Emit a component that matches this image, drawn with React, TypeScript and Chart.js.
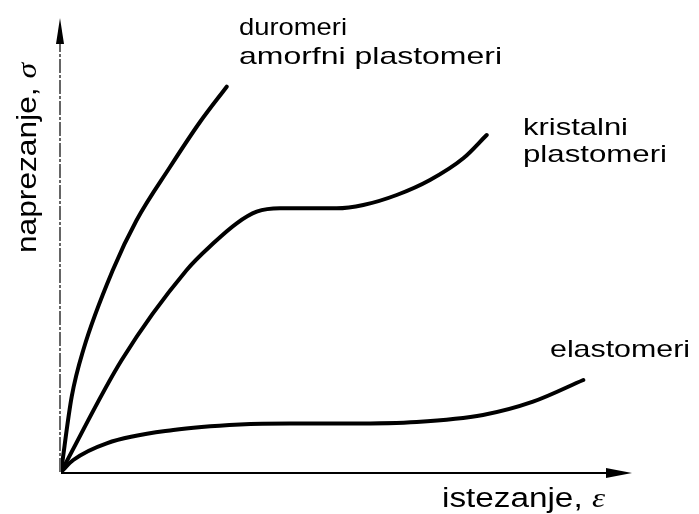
import React, { useEffect, useRef } from "react";
import { Chart, registerables } from "chart.js";

Chart.register(...registerables);

// strain (x) / stress (y) values, in arbitrary units
const duromeriStrain = [0, 10.7, 22.3, 52.3, 75.7, 109, 139, 165.7];
const duromeriStress = [0, 75.3, 122, 203, 252, 305, 350, 385.3];

const kristalniStrain = [0, 60.7, 125.7, 152.3, 175.7, 195.7, 219, 275.7, 302.3, 335.7, 369, 402.3, 425.7];
const kristalniStress = [0, 112, 202, 228.7, 248.7, 260.3, 263.7, 263.7, 267, 277, 292, 313.7, 337];

const elastomeriStrain = [0, 12.3, 45.7, 112.3, 179, 229, 289, 355.7, 422, 472, 522.3];
const elastomeriStress = [0, 12, 28.7, 42, 47.5, 48.5, 48.5, 50, 57, 70.3, 92];

const axisMaxX = 571;
const axisMaxY = 454;

const curveLabels = ["duromeri", "amorfni plastomeri", "kristalni", "plastomeri", "elastomeri"];
const xAxisTitle = "istezanje, ";
const xAxisSymbol = "ε";
const yAxisTitle = "naprezanje, ";
const yAxisSymbol = "σ";

function toPoints(xs: number[], ys: number[]) {
  return xs.map((x, i) => ({ x, y: ys[i] }));
}

type Part = { text: string; font: string };

function drawFitted(ctx: CanvasRenderingContext2D, parts: Part[], x: number, y: number, width: number, rotate = false) {
  ctx.save();
  let natural = 0;
  const widths = parts.map((p) => {
    ctx.font = p.font;
    const w = ctx.measureText(p.text).width;
    natural += w;
    return w;
  });
  ctx.translate(x, y);
  if (rotate) ctx.rotate(-Math.PI / 2);
  ctx.scale(width / natural, 1);
  ctx.fillStyle = "#000";
  ctx.textBaseline = "alphabetic";
  ctx.textAlign = "left";
  let cx = 0;
  parts.forEach((p, i) => {
    ctx.font = p.font;
    ctx.fillText(p.text, cx, 0);
    cx += widths[i];
  });
  ctx.restore();
}

const sans = (s: number) => `${s}px "Liberation Sans", Arial, sans-serif`;
const greek = (s: number) => `italic ${s}px "Liberation Serif", "DejaVu Serif", serif`;

const decorPlugin = {
  id: "decor",
  afterDatasetsDraw(chart: any) {
    const ctx: CanvasRenderingContext2D = chart.ctx;
    const xs = chart.scales.x;
    const ys = chart.scales.y;
    const ox = xs.getPixelForValue(0);
    const oy = ys.getPixelForValue(0);
    const ex = xs.getPixelForValue(axisMaxX);
    const ey = ys.getPixelForValue(axisMaxY);

    ctx.save();
    // y axis (thin, broken like a scan)
    ctx.strokeStyle = "#333";
    ctx.lineWidth = 1.5;
    ctx.setLineDash([14, 2, 3, 2]);
    ctx.beginPath();
    ctx.moveTo(ox - 1, oy);
    ctx.lineTo(ox - 1, ey + 20);
    ctx.stroke();
    ctx.setLineDash([]);
    // y arrow
    ctx.fillStyle = "#000";
    ctx.beginPath();
    ctx.moveTo(ox - 1, ey);
    ctx.lineTo(ox - 5, ey + 26);
    ctx.lineTo(ox + 3, ey + 26);
    ctx.closePath();
    ctx.fill();
    // x axis
    ctx.strokeStyle = "#000";
    ctx.lineWidth = 2;
    ctx.beginPath();
    ctx.moveTo(ox, oy + 1);
    ctx.lineTo(ex - 20, oy + 1);
    ctx.stroke();
    ctx.beginPath();
    ctx.moveTo(ex, oy + 1);
    ctx.lineTo(ex - 26, oy - 4);
    ctx.lineTo(ex - 26, oy + 6);
    ctx.closePath();
    ctx.fill();
    ctx.restore();

    const px = (v: number) => xs.getPixelForValue(v);
    const py = (v: number) => ys.getPixelForValue(v);

    drawFitted(ctx, [{ text: curveLabels[0], font: sans(24) }], px(178), py(437), 108);
    drawFitted(ctx, [{ text: curveLabels[1], font: sans(24) }], px(178), py(408.5), 263);
    drawFitted(ctx, [{ text: curveLabels[2], font: sans(24) }], px(462), py(337), 105);
    drawFitted(ctx, [{ text: curveLabels[3], font: sans(24) }], px(462), py(310), 144);
    drawFitted(ctx, [{ text: curveLabels[4], font: sans(24) }], px(489), py(115), 140);
    drawFitted(
      ctx,
      [
        { text: xAxisTitle, font: sans(27) },
        { text: xAxisSymbol, font: greek(27) },
      ],
      px(381),
      py(-35),
      163
    );
    drawFitted(
      ctx,
      [
        { text: yAxisTitle, font: sans(27) },
        { text: yAxisSymbol, font: greek(27) },
      ],
      px(-25),
      py(219),
      190,
      true
    );
  },
};

export default function App() {
  const ref = useRef<HTMLCanvasElement | null>(null);
  useEffect(() => {
    document.body.style.margin = "0";
    const canvas = ref.current!;
    const lineStyle = {
      borderColor: "#000",
      borderWidth: 4,
      pointRadius: 0,
      fill: false,
      cubicInterpolationMode: "monotone" as const,
      borderCapStyle: "round" as const,
    };
    const chart = new Chart(canvas, {
      type: "line",
      data: {
        datasets: [
          { label: "duromeri / amorfni plastomeri", data: toPoints(duromeriStrain, duromeriStress), ...lineStyle },
          { label: "kristalni plastomeri", data: toPoints(kristalniStrain, kristalniStress), ...lineStyle },
          { label: "elastomeri", data: toPoints(elastomeriStrain, elastomeriStress), ...lineStyle },
        ],
      },
      options: {
        responsive: false,
        animation: false,
        devicePixelRatio: 1,
        layout: { padding: { left: 61, right: 67, top: 18, bottom: 42 } },
        scales: {
          x: { type: "linear", min: 0, max: axisMaxX, display: false },
          y: { type: "linear", min: 0, max: axisMaxY, display: false },
        },
        plugins: { legend: { display: false }, tooltip: { enabled: false } },
      },
      plugins: [decorPlugin],
    });
    return () => chart.destroy();
  }, []);
  return (
    <div style={{ position: "fixed", left: 0, top: 0, width: 699, height: 514, background: "#fff" }}>
      <canvas ref={ref} width={699} height={514} style={{ width: 699, height: 514, display: "block" }} />
    </div>
  );
}
